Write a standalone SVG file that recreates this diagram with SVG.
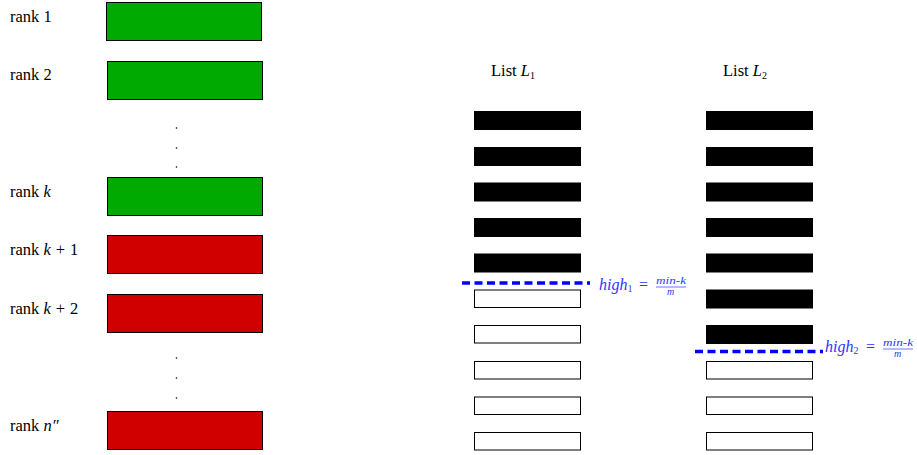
<svg xmlns="http://www.w3.org/2000/svg" width="917" height="455" viewBox="0 0 917 455">
<style>
.lbl{font-family:"Liberation Serif",serif;font-size:16.5px;fill:#000}
.it{font-style:italic}
.green{fill:#00aa00;stroke:#000;stroke-width:1}
.red{fill:#d00000;stroke:#000;stroke-width:1}
.blk{fill:#000;stroke:#000;stroke-width:1}
.wht{fill:#fff;stroke:#000;stroke-width:1}
.dash{stroke:#0000ff;stroke-width:3.5;stroke-dasharray:8 4.5;fill:none}
.hl{font-family:"Liberation Serif",serif;font-size:16px;fill:#3333ff;font-style:italic}
.fr{font-family:"Liberation Serif",serif;font-size:10px;fill:#3333ff;font-style:italic}
.dot{fill:#000}
</style>
<rect width="917" height="455" fill="#fff"/>
<g id="ranks">
<g id="rank1"><rect class="green" x="106.5" y="2.5" width="155" height="38"/><text class="lbl" x="10" y="22">rank 1</text></g>
<g id="rank2"><rect class="green" x="107.5" y="61.5" width="155" height="38"/><text class="lbl" x="10" y="80">rank 2</text></g>
<g id="rankk"><rect class="green" x="107.5" y="177.5" width="155" height="38"/><text class="lbl" x="10" y="197">rank <tspan class="it">k</tspan></text></g>
<g id="rankk1"><rect class="red" x="107.5" y="235.5" width="155" height="38"/><text class="lbl" x="10" y="255">rank <tspan class="it">k</tspan><tspan dx="5">+</tspan><tspan dx="5">1</tspan></text></g>
<g id="rankk2"><rect class="red" x="107.5" y="294.5" width="155" height="38"/><text class="lbl" x="10" y="314">rank <tspan class="it">k</tspan><tspan dx="5">+</tspan><tspan dx="5">2</tspan></text></g>
<g id="rankn"><rect class="red" x="107.5" y="411.5" width="155" height="38"/><text class="lbl" x="10" y="431">rank <tspan class="it">n″</tspan></text></g>
<g id="dots1"><circle class="dot" cx="176.5" cy="128" r="0.8"/><circle class="dot" cx="176.5" cy="148" r="0.8"/><circle class="dot" cx="176.5" cy="167" r="0.8"/></g>
<g id="dots2"><circle class="dot" cx="176.5" cy="358" r="0.8"/><circle class="dot" cx="176.5" cy="378" r="0.8"/><circle class="dot" cx="176.5" cy="398" r="0.8"/></g>
</g>
<g id="list1">
<text class="lbl" x="491" y="76">List <tspan class="it">L</tspan><tspan font-size="10" dy="3">1</tspan></text>
<rect class="blk" x="474.5" y="111.5" width="106" height="18"/>
<rect class="blk" x="474.5" y="147.5" width="106" height="18"/>
<rect class="blk" x="474.5" y="183" width="106" height="18"/>
<rect class="blk" x="474.5" y="218.5" width="106" height="18"/>
<rect class="blk" x="474.5" y="254" width="106" height="18"/>
<rect class="wht" x="474.5" y="290" width="106" height="17.5"/>
<rect class="wht" x="474.5" y="325.5" width="106" height="17.5"/>
<rect class="wht" x="474.5" y="361.5" width="106" height="17.5"/>
<rect class="wht" x="474.5" y="397" width="106" height="17.5"/>
<rect class="wht" x="474.5" y="432.5" width="106" height="17.5"/>
</g>
<g id="list2">
<text class="lbl" x="723" y="76">List <tspan class="it">L</tspan><tspan font-size="10" dy="3">2</tspan></text>
<rect class="blk" x="706.5" y="111.5" width="106" height="18"/>
<rect class="blk" x="706.5" y="147.5" width="106" height="18"/>
<rect class="blk" x="706.5" y="183" width="106" height="18"/>
<rect class="blk" x="706.5" y="218.5" width="106" height="18"/>
<rect class="blk" x="706.5" y="254" width="106" height="18"/>
<rect class="blk" x="706.5" y="290" width="106" height="18"/>
<rect class="blk" x="706.5" y="325.5" width="106" height="18"/>
<rect class="wht" x="706.5" y="361.5" width="106" height="17.5"/>
<rect class="wht" x="706.5" y="397" width="106" height="17.5"/>
<rect class="wht" x="706.5" y="432.5" width="106" height="17.5"/>
</g>
<g id="connectors">
<line class="dash" x1="462" y1="283" x2="590" y2="283"/>
<line class="dash" x1="695" y1="351.5" x2="823" y2="351.5"/>
</g>
<g id="high1">
<text class="hl" x="599" y="290">high<tspan font-size="10" font-style="normal" dy="2">1</tspan><tspan font-style="normal" dy="-2" x="639">=</tspan></text>
<text class="fr" x="656" y="284" textLength="30" lengthAdjust="spacingAndGlyphs">min-k</text>
<line x1="656" y1="287" x2="686" y2="287" stroke="#3333ff" stroke-width="0.7"/>
<text class="fr" x="667" y="295">m</text>
</g>
<g id="high2">
<text class="hl" x="825" y="352">high<tspan font-size="10" font-style="normal" dy="2">2</tspan><tspan font-style="normal" dy="-2" x="866">=</tspan></text>
<text class="fr" x="883" y="346" textLength="30" lengthAdjust="spacingAndGlyphs">min-k</text>
<line x1="883" y1="349" x2="913" y2="349" stroke="#3333ff" stroke-width="0.7"/>
<text class="fr" x="894" y="357">m</text>
</g>
</svg>
